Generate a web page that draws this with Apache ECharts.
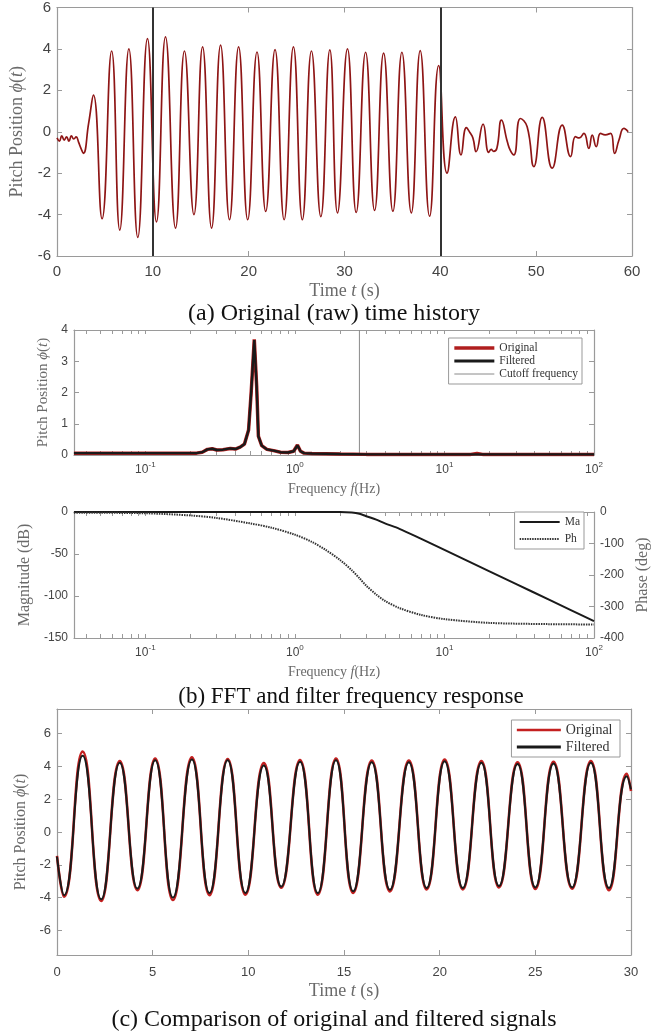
<!DOCTYPE html>
<html><head><meta charset="utf-8">
<script src="https://cdn.jsdelivr.net/npm/echarts@6/dist/echarts.min.js"></script>
<style>html,body{margin:0;padding:0;background:#fff}#c{width:662px;height:1031px}</style>
</head><body><div id="c"></div>
<script>
// ---- Panel (a): raw time history (time s, pitch) ----
const tA = [0,0.25,0.5,0.75,1.0,1.25,1.5,1.75,2.0,2.25,2.5,2.75,3.3,3.8,4.7,5.7,6.55,7.5,8.43,9.44,10.38,11.32,12.37,13.3,14.29,15.19,16.13,17.07,18.0,18.95,19.9,20.87,21.78,22.75,23.7,24.67,25.6,26.55,27.53,28.47,29.27,30.31,31.22,32.2,33.14,34.08,35.05,35.99,36.97,37.9,38.88,39.83,40.7,41.57,42.16,42.72,43.1,43.4,43.73,44.46,45.05,45.3,45.57,45.9,46.38,47.0,47.3,47.67,48.36,49.06,49.76,50.63,51.67,52.72,53.59,54.1,54.5,54.98,55.5,55.85,56.27,56.72,57.2,57.77,58.19,58.64,59.16,59.6];
const yA = [-0.3,-0.45,-0.2,-0.4,-0.25,-0.45,-0.2,-0.35,-0.25,-0.5,-0.8,-1.04,0.4,1.77,-4.2,3.9,-4.75,4.0,-5.1,4.5,-4.35,4.58,-4.65,3.9,-4.0,4.1,-4.65,4.18,-4.25,4.1,-4.25,3.85,-3.85,3.97,-4.25,4.1,-4.25,3.9,-4.1,3.95,-3.92,4.0,-3.9,3.84,-3.8,3.8,-3.84,3.84,-3.92,3.92,-4.08,3.2,-2.0,0.72,-1.12,0.2,-0.05,-0.3,-0.96,0.37,-1.0,-0.85,-0.95,-0.8,0.56,-0.5,-0.9,-1.12,0.64,0.24,-1.68,0.69,-1.76,0.32,-1.2,-0.24,-0.3,-0.08,-0.8,-0.16,-0.72,-0.08,-0.15,-0.08,-1.04,-0.4,0.16,0.0];
const markTimesA = [10, 40];

// ---- Panel (b) top: FFT amplitude spectrum ----
const fftF    = [0.0333,0.05,0.08,0.12,0.17,0.22,0.24,0.26,0.28,0.30,0.33,0.37,0.40,0.43,0.46,0.49,0.51,0.535,0.555,0.57,0.60,0.65,0.72,0.80,0.90,0.98,1.04,1.09,1.15,1.3,1.6,2.0,3.0,5.0,10,15,16.5,18,30,50,100];
const fftOrig = [0.06,0.06,0.06,0.06,0.06,0.06,0.09,0.18,0.2,0.16,0.17,0.21,0.19,0.25,0.35,0.8,2.0,3.7,2.2,0.6,0.3,0.18,0.14,0.09,0.08,0.12,0.32,0.12,0.06,0.05,0.04,0.03,0.02,0.02,0.02,0.02,0.05,0.02,0.02,0.02,0.02];
const fftFilt = [0.06,0.06,0.06,0.06,0.06,0.06,0.09,0.18,0.2,0.16,0.17,0.21,0.19,0.25,0.35,0.8,2.0,3.68,2.2,0.6,0.3,0.18,0.14,0.09,0.08,0.12,0.31,0.12,0.06,0.05,0.04,0.03,0.02,0.02,0.02,0.02,0.02,0.02,0.02,0.02,0.02];
const cutoffF = [2.7, 2.7];
const cutoffA = [0, 4];

// ---- Panel (b) bottom: filter frequency response ----
const magF  = [0.0333,0.1,0.5,1,2,2.4,2.7,3.0,3.5,4,5,7,10,20,30,50,70,100];
const magDb = [0,0,0,0,0,-0.5,-2,-5,-9,-13.5,-20,-32,-45,-70.6,-85.5,-104.4,-116.8,-130];
const phF   = [0.0333,0.1,0.2,0.3,0.5,0.7,1.0,1.3,1.6,2.0,2.4,2.7,3.0,3.5,4.0,5.0,7.0,10,20,50,100];
const phDeg = [-2,-4,-11,-19,-36,-50,-72,-95,-120,-152,-185,-210,-234,-262,-282,-305,-327,-340,-352,-356,-357];
const logMajor = [0.1,1,10,100];
const logMinor = [0.04,0.05,0.06,0.07,0.08,0.09,0.2,0.3,0.4,0.5,0.6,0.7,0.8,0.9,2,3,4,5,6,7,8,9,20,30,40,50,60,70,80,90];

// ---- Panel (c): original vs filtered ----
const tC    = [0,0.37,1.34,2.31,3.28,4.2,5.13,6.06,7.05,7.97,8.92,9.85,10.81,11.72,12.7,13.63,14.58,15.48,16.45,17.4,18.39,19.32,20.26,21.21,22.18,23.1,24.07,25.0,25.95,26.92,27.9,28.85,29.78,30];
const origC = [-1.45,-3.95,4.9,-4.2,4.32,-3.55,4.48,-4.15,4.55,-3.85,4.45,-3.82,4.2,-3.4,4.38,-3.82,4.48,-3.72,4.35,-3.62,4.35,-3.5,4.42,-3.5,4.32,-3.38,4.25,-3.48,4.28,-3.45,4.32,-3.55,3.55,2.5];
const filtC = [-1.5,-3.85,4.65,-4.1,4.22,-3.45,4.38,-4.0,4.42,-3.72,4.38,-3.72,4.05,-3.33,4.28,-3.72,4.38,-3.62,4.25,-3.52,4.25,-3.42,4.32,-3.42,4.22,-3.3,4.15,-3.38,4.18,-3.38,4.22,-3.42,3.4,2.6];
const yTicksC = [-6,-4,-2,0,2,4,6];

const pairs = (xs, ys) => xs.map((x, i) => [x, ys[i]]);

const SANS = 'Liberation Sans', SERIF = 'Liberation Serif';
const AX = '#9a9a9a', LBL = '#444', NAME = '#6a6a6a';

function logFmt(v){ const e = Math.round(Math.log10(v)); return '{b|10}{s|' + e + '}'; }
const logRich = { b:{fontFamily:SANS,fontSize:12,color:LBL}, s:{fontFamily:SANS,fontSize:8,color:LBL,padding:[0,0,9,0]} };

function nameStyle(fs){ return {fontFamily:SERIF, fontSize:fs, color:NAME, rich:{i:{fontFamily:SERIF,fontStyle:'italic',fontSize:fs,color:NAME}}}; }

function valX(grid, min, max, interval, pos, labels, fs, name, nameGap, nameFs, margin){
  return { type:'value', gridIndex:grid, min, max, interval, position:pos,
    axisLine:{show:true, onZero:false, lineStyle:{color:AX,width:1.2}},
    axisTick:{show:true, inside:true, length:5, lineStyle:{color:AX}},
    splitLine:{show:false},
    axisLabel:{show:labels, color:LBL, fontFamily:SANS, fontSize:fs, margin:margin||8},
    name: name||'', nameLocation:'middle', nameGap:nameGap||0, nameTextStyle:nameStyle(nameFs||15)
  };
}
function logX(grid, pos, labels, name, nameGap, margin){
  return { type:'log', logBase:10, gridIndex:grid, min:1/30, max:100, position:pos,
    axisLine:{show:true, onZero:false, lineStyle:{color:AX,width:1.2}},
    axisTick:{show:true, inside:true, length:4, lineStyle:{color:AX}, customValues: logMajor.concat(logMinor)},
    splitLine:{show:false}, minorTick:{show:false},
    axisLabel:{show:labels, customValues: logMajor, formatter: logFmt, rich: logRich, margin:margin||6},
    name: name||'', nameLocation:'middle', nameGap:nameGap||0, nameTextStyle:nameStyle(14)
  };
}
function valY(grid, min, max, interval, pos, labels, fs, name, nameGap, nameFs, custom){
  const a = { type:'value', gridIndex:grid, min, max, interval, position:pos,
    axisLine:{show:true, onZero:false, lineStyle:{color:AX,width:1.2}},
    axisTick:{show:true, inside:true, length:5, lineStyle:{color:AX}},
    splitLine:{show:false},
    axisLabel:{show:labels, color:LBL, fontFamily:SANS, fontSize:fs, margin:6},
    name: name||'', nameLocation:'middle', nameGap:nameGap||0, nameRotate:90, nameTextStyle:nameStyle(nameFs||15)
  };
  if (custom){ a.axisTick.customValues = custom; a.axisLabel.customValues = custom; delete a.interval; }
  return a;
}
const legendBase = { orient:'vertical', borderColor:'#999', borderWidth:1, backgroundColor:'#fff', itemStyle:{opacity:0} };

const chart = echarts.init(document.getElementById('c'), null, {renderer:'canvas'});
const option = {
  animation:false,
  backgroundColor:'#fff',
  grid:[
    {left:57, top:7, width:575, height:249},
    {left:74, top:330, width:520, height:125},
    {left:74, top:512, width:520, height:126},
    {left:57, top:709, width:574, height:246}
  ],
  xAxis:[
    valX(0,0,60,10,'bottom',true,15,'Time {i|t} (s)',26,18,8),
    valX(0,0,60,10,'top',false,15),
    logX(1,'bottom',true,'Frequency {i|f}(Hz)',27,6),
    logX(1,'top',false),
    logX(2,'bottom',true,'Frequency {i|f}(Hz)',27,6),
    logX(2,'top',false),
    valX(3,0,30,5,'bottom',true,13,'Time {i|t} (s)',27,18,11),
    valX(3,0,30,5,'top',false,13)
  ],
  yAxis:[
    valY(0,-6,6,2,'left',true,15,'Pitch Position {i|ϕ}({i|t})',25,18),
    valY(0,-6,6,2,'right',false,15),
    valY(1,0,4,1,'left',true,12,'Pitch Position {i|ϕ}({i|t})',23,15),
    valY(1,0,4,1,'right',false,12),
    valY(2,-150,0,50,'left',true,12,'Magnitude (dB)',38,16),
    valY(2,-400,0,100,'right',true,12,'Phase (deg)',38,16),
    valY(3,-7.5,7.5,null,'left',true,13,'Pitch Position {i|ϕ}({i|t})',25,16,yTicksC),
    valY(3,-7.5,7.5,null,'right',false,13,'',0,14,yTicksC)
  ],
  legend:[
    Object.assign({}, legendBase, { data:[{name:'Original',lineStyle:{width:3.5}},{name:'Filtered',lineStyle:{width:3}},{name:'Cutoff frequency',lineStyle:{width:1}}],
      right:80, top:338, itemGap:1, itemWidth:40, itemHeight:11,
      textStyle:{fontFamily:SERIF,fontSize:11.5,color:'#333'}, padding:[4,4,4,4] }),
    Object.assign({}, legendBase, { data:[{name:'Ma',lineStyle:{width:2.2}},{name:'Ph',lineStyle:{width:2}}], right:78, top:512, itemGap:5, itemWidth:40, itemHeight:10,
      textStyle:{fontFamily:SERIF,fontSize:11.5,color:'#333'}, padding:[4,4,4,4] }),
    Object.assign({}, legendBase, { data:[{name:'Original ',lineStyle:{width:2.6}},{name:'Filtered ',lineStyle:{width:2.8}}], right:42, top:720, itemGap:3, itemWidth:44, itemHeight:11,
      textStyle:{fontFamily:SERIF,fontSize:14,color:'#333'}, padding:[3,4,3,4] })
  ],
  graphic:[
    {type:'text', x:334, y:314, style:{text:'(a) Original (raw) time history', font:'24px "Liberation Serif"', fill:'#111', textAlign:'center', textVerticalAlign:'middle'}},
    {type:'text', x:351, y:697, style:{text:'(b) FFT and filter frequency response', font:'23px "Liberation Serif"', fill:'#111', textAlign:'center', textVerticalAlign:'middle'}},
    {type:'text', x:334, y:1020, style:{text:'(c) Comparison of original and filtered signals', font:'24px "Liberation Serif"', fill:'#111', textAlign:'center', textVerticalAlign:'middle'}}
  ],
  series:[
    { type:'line', xAxisIndex:0, yAxisIndex:0, data:pairs(tA,yA), smooth:0.5, showSymbol:false, symbol:'none',
      lineStyle:{color:'#8e1515', width:1.7}, z:3,
      markLine:{ silent:true, symbol:'none', label:{show:false}, lineStyle:{color:'#333', width:2, type:'solid'},
        data: markTimesA.map(t=>({xAxis:t})) } },
    { name:'Original', type:'line', xAxisIndex:2, yAxisIndex:2, data:pairs(fftF,fftOrig), showSymbol:false, symbol:'none',
      lineStyle:{color:'#b01e1e', width:3.5}, itemStyle:{color:'#b01e1e'}, z:2 },
    { name:'Filtered', type:'line', xAxisIndex:2, yAxisIndex:2, data:pairs(fftF,fftFilt), showSymbol:false, symbol:'none',
      lineStyle:{color:'#1a1a1a', width:2.4}, itemStyle:{color:'#1a1a1a'}, z:3 },
    { name:'Cutoff frequency', type:'line', xAxisIndex:2, yAxisIndex:2, data:pairs(cutoffF,cutoffA), showSymbol:false, symbol:'none',
      lineStyle:{color:'#8a8a8a', width:1}, itemStyle:{color:'#8a8a8a'}, z:1 },
    { name:'Ma', type:'line', xAxisIndex:4, yAxisIndex:4, data:pairs(magF,magDb), smooth:0.3, showSymbol:false, symbol:'none',
      lineStyle:{color:'#1a1a1a', width:2}, itemStyle:{color:'#1a1a1a'} },
    { name:'Ph', type:'line', xAxisIndex:4, yAxisIndex:5, data:pairs(phF,phDeg), smooth:0.3, showSymbol:false, symbol:'none',
      lineStyle:{color:'#333', width:2, type:[1.5,1]}, itemStyle:{color:'#333'} },
    { name:'Original ', type:'line', xAxisIndex:6, yAxisIndex:6, data:pairs(tC,origC), smooth:0.5, showSymbol:false, symbol:'none',
      lineStyle:{color:'#c42020', width:2.6}, itemStyle:{color:'#c42020'}, z:2 },
    { name:'Filtered ', type:'line', xAxisIndex:6, yAxisIndex:6, data:pairs(tC,filtC), smooth:0.5, showSymbol:false, symbol:'none',
      lineStyle:{color:'#1a1a1a', width:2}, itemStyle:{color:'#1a1a1a'}, z:3 }
  ]
};
chart.setOption(option);
</script></body></html>
